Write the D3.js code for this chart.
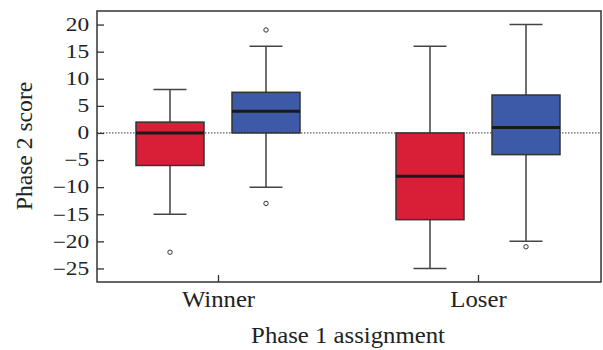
<!doctype html>
<html>
<head>
<meta charset="UTF-8">
<title>Phase 2 score</title>
<script src="https://d3js.org/d3.v7.min.js"></script>
<style>
  body { margin: 0; background: #fff; }
  text { font-family: "Liberation Serif", "Times New Roman", serif; fill: #222; }
</style>
</head>
<body>
<script>
// data
var groups = ["Winner", "Loser"];
var series = ["red", "blue"];
var colors = ["#d81f37", "#3c5aa8"];
var yTicks = [20, 15, 10, 5, 0, -5, -10, -15, -20, -25];

// [lowWhisker, q1, median, q3, highWhisker] per group
var redStats = [[-15, -6, 0, 2, 8], [-25, -16, -8, 0, 16]];
var blueStats = [[-10, 0, 4, 7.5, 16], [-20, -4, 1, 7, 20]];
var redOutliers = [[-22], []];
var blueOutliers = [[19, -13], [-21]];

var w = 603, h = 350;
var ml = 97, mr = 601, mt = 11, mb = 282;

var svg = d3.select("body").append("svg")
    .attr("width", w)
    .attr("height", h);

var y = d3.scaleLinear().domain([-27.5, 22.5]).range([mb, mt]);
var x = d3.scalePoint().domain(groups).range([218, 478]);
var offset = d3.scaleOrdinal().domain(series).range([-48, 48]);
var boxW = 68, capW = 33;

// zero reference line
svg.append("line")
    .attr("x1", ml).attr("x2", mr)
    .attr("y1", y(0)).attr("y2", y(0))
    .attr("stroke", "#333").attr("stroke-width", 1)
    .attr("stroke-dasharray", "1.5,1.5");

var boxes = [];
groups.forEach(function (g, i) {
    boxes.push({ g: g, s: "red", c: colors[0], st: redStats[i], out: redOutliers[i] });
    boxes.push({ g: g, s: "blue", c: colors[1], st: blueStats[i], out: blueOutliers[i] });
});

var b = svg.selectAll("g.box").data(boxes).enter()
    .append("g").attr("class", "box")
    .attr("transform", function (d) { return "translate(" + (x(d.g) + offset(d.s)) + ",0)"; });

// whiskers
b.append("line")
    .attr("x1", 0).attr("x2", 0)
    .attr("y1", function (d) { return y(d.st[4]); })
    .attr("y2", function (d) { return y(d.st[3]); })
    .attr("stroke", "#222").attr("stroke-width", 1.3);
b.append("line")
    .attr("x1", 0).attr("x2", 0)
    .attr("y1", function (d) { return y(d.st[1]); })
    .attr("y2", function (d) { return y(d.st[0]); })
    .attr("stroke", "#222").attr("stroke-width", 1.3);
[0, 4].forEach(function (k) {
    b.append("line")
        .attr("x1", -capW / 2).attr("x2", capW / 2)
        .attr("y1", function (d) { return y(d.st[k]); })
        .attr("y2", function (d) { return y(d.st[k]); })
        .attr("stroke", "#444").attr("stroke-width", 1.5);
});

b.append("rect")
    .attr("x", -boxW / 2)
    .attr("width", boxW)
    .attr("y", function (d) { return y(d.st[3]); })
    .attr("height", function (d) { return y(d.st[1]) - y(d.st[3]); })
    .attr("fill", function (d) { return d.c; })
    .attr("stroke", "#333").attr("stroke-width", 1.5);

b.append("line")
    .attr("x1", -boxW / 2).attr("x2", boxW / 2)
    .attr("y1", function (d) { return y(d.st[2]); })
    .attr("y2", function (d) { return y(d.st[2]); })
    .attr("stroke", "#1a1a1a").attr("stroke-width", 3);

b.selectAll("circle").data(function (d) { return d.out; }).enter()
    .append("circle")
    .attr("cx", 0)
    .attr("cy", function (v) { return y(v); })
    .attr("r", 2.2)
    .attr("fill", "#fff").attr("stroke", "#333").attr("stroke-width", 1);

// frame
svg.append("rect")
    .attr("x", ml).attr("y", mt)
    .attr("width", mr - ml).attr("height", mb - mt)
    .attr("fill", "none").attr("stroke", "#333").attr("stroke-width", 1.5);

// axes, ticks inward
var yAxis = d3.axisLeft(y).tickValues(yTicks).tickSizeInner(-7).tickSizeOuter(0).tickPadding(6)
    .tickFormat(function (d) { return d < 0 ? "\u2212" + (-d) : d; });
var gy = svg.append("g").attr("transform", "translate(" + ml + ",0)").call(yAxis);
gy.select(".domain").remove();
gy.selectAll("line").attr("stroke", "#333").attr("stroke-width", 1.3);
gy.selectAll("text").style("font-size", "18px").attr("fill", "#222")
    .attr("transform", "scale(1.3,1)");

var xAxis = d3.axisBottom(x).tickSizeInner(-7).tickSizeOuter(0).tickPadding(9);
var gx = svg.append("g").attr("transform", "translate(0," + mb + ")").call(xAxis);
gx.select(".domain").remove();
gx.selectAll("line").attr("stroke", "#333").attr("stroke-width", 1.3);
gx.selectAll("text").style("font-size", "22.5px").attr("fill", "#222")
    .attr("transform", "scale(1.1,1)");

svg.append("g").attr("transform", "translate(" + ((ml + mr) / 2 - 1) + ",343)")
  .append("text")
    .attr("text-anchor", "middle")
    .attr("transform", "scale(1.1,1)")
    .style("font-size", "22.5px")
    .text("Phase 1 assignment");

svg.append("g").attr("transform", "translate(32,146) rotate(-90)")
  .append("text")
    .attr("text-anchor", "middle")
    .attr("transform", "scale(1.05,1)")
    .style("font-size", "22.5px")
    .text("Phase 2 score");
</script>
</body>
</html>
